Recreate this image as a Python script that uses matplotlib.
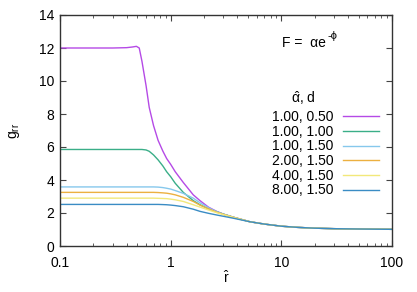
import matplotlib
matplotlib.use("Agg")
import matplotlib.pyplot as plt
from matplotlib.ticker import LogLocator, NullFormatter

plt.rcParams['font.family'] = ['Liberation Sans', 'DejaVu Sans']
plt.rcParams['mathtext.fontset'] = 'custom'
plt.rcParams['mathtext.rm'] = 'Liberation Sans'
plt.rcParams['mathtext.it'] = 'Liberation Sans'

r = [0.1, 0.2, 0.3, 0.4, 0.45, 0.49, 0.52, 0.55, 0.6, 0.64, 0.7, 0.77, 0.85,
     0.92, 1.0, 1.1, 1.3, 1.6, 1.84, 2.2, 2.6, 3.0, 3.7, 5.2, 7.0, 10.0, 14.0,
     20.0, 30.0, 50.0, 100.0]

tail = [1.47, 1.33, 1.20, 1.13, 1.08, 1.05, 1.03, 1.01]

g_1_050 = [12.0, 12.0, 12.0, 12.02, 12.06, 12.1, 12.0, 11.2, 9.7, 8.4, 7.3,
           6.4, 5.75, 5.3, 4.95, 4.5, 3.85, 3.1, 2.75, 2.35, 2.1, 1.93, 1.74] + tail
g_1_100 = [5.85, 5.85, 5.85, 5.85, 5.85, 5.85, 5.85, 5.85, 5.82, 5.74, 5.52,
           5.22, 4.85, 4.5, 4.2, 3.8, 3.25, 2.75, 2.5, 2.25, 2.08, 1.93, 1.74] + tail
g_1_150 = [3.58, 3.58, 3.58, 3.58, 3.58, 3.58, 3.58, 3.58, 3.58, 3.58, 3.58,
           3.57, 3.54, 3.5, 3.45, 3.36, 3.19, 2.9, 2.62, 2.32, 2.08, 1.93, 1.74] + tail
g_2_150 = [3.25, 3.25, 3.25, 3.25, 3.25, 3.25, 3.25, 3.25, 3.25, 3.25, 3.25,
           3.24, 3.22, 3.2, 3.16, 3.1, 2.95, 2.7, 2.48, 2.25, 2.05, 1.92, 1.74] + tail
g_4_150 = [2.9, 2.9, 2.9, 2.9, 2.9, 2.9, 2.9, 2.9, 2.9, 2.9, 2.9,
           2.89, 2.88, 2.87, 2.84, 2.8, 2.7, 2.5, 2.36, 2.18, 2.02, 1.9, 1.73] + tail
g_8_150 = [2.52, 2.52, 2.52, 2.52, 2.52, 2.52, 2.52, 2.52, 2.52, 2.52, 2.52,
           2.52, 2.51, 2.5, 2.48, 2.45, 2.38, 2.23, 2.1, 1.98, 1.88, 1.8, 1.68] + tail

series = [g_1_050, g_1_100, g_1_150, g_2_150, g_4_150, g_8_150]
labels = ["1.00, 0.50", "1.00, 1.00", "1.00, 1.50", "2.00, 1.50", "4.00, 1.50", "8.00, 1.50"]
colors = ["#b54ae6", "#3aae88", "#86c8ec", "#ecb040", "#f2e87a", "#3a8cc4"]

yticks = [0, 2, 4, 6, 8, 10, 12, 14]
xticks = [0.1, 1, 10, 100]
xticklabels = ["0.1", "1", "10", "100"]

fig = plt.figure(figsize=(4.17, 2.92), dpi=100)
ax = fig.add_axes([60/417, 1-246/292, 332/417, 231/292])

handles = []
for ys, lab, c in zip(series, labels, colors):
    h, = ax.plot(r, ys, color=c, lw=1.0, label=lab)
    handles.append(h)

ax.set_xscale('log')
ax.set_xlim(0.1, 100)
ax.set_ylim(0, 14)
ax.set_xticks(xticks)
ax.set_xticklabels(xticklabels)
ax.xaxis.set_minor_locator(LogLocator(base=10, subs=range(2, 10), numticks=20))
ax.xaxis.set_minor_formatter(NullFormatter())
ax.set_yticks(yticks)
ax.tick_params(axis='both', which='both', direction='in', top=True, right=True,
               labelsize=10, color='#444444')
ax.tick_params(which='major', length=4, width=0.8)
ax.tick_params(axis='y', which='major', pad=4)
ax.tick_params(axis='x', which='major', pad=7)
ax.tick_params(which='minor', length=2, width=0.6)
for s in ax.spines.values():
    s.set_linewidth(1.0)
    s.set_color('#333333')

ax.set_xlabel(r"$\hat{\mathrm{r}}$", fontsize=10, labelpad=0)
ax.set_ylabel(r"$\mathrm{g_{rr}}$", fontsize=10, labelpad=12)

fig.text(282/417, 1-47/292, "F =  αe", fontsize=10, ha='left', va='baseline')
fig.text(328/417, 1-39/292, "-ϕ", fontsize=8, ha='left', va='baseline')

fig.text(303/417, 1-98/292, r"$\hat{\alpha}$, d", fontsize=10, ha='center', va='center')

leg = ax.legend(handles=handles, loc='upper left', bbox_to_anchor=(272/417, 1-110/292),
                bbox_transform=fig.transFigure, frameon=False, markerfirst=False,
                fontsize=10, handlelength=2.65, handletextpad=0.65, labelspacing=0.05,
                borderpad=0, borderaxespad=0)

fig.savefig("out.png", dpi=100)
